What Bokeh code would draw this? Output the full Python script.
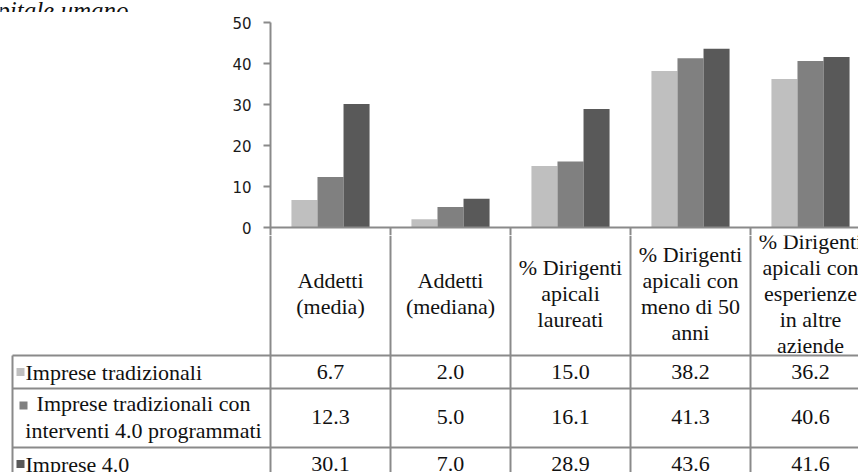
from bokeh.plotting import figure
from bokeh.layouts import column
from bokeh.models import Range1d, FixedTicker
from bokeh.core.properties import value
from bokeh.embed import file_html
from bokeh.resources import INLINE

# ---- data -------------------------------------------------------------
categories = [
    "Addetti\n(media)",
    "Addetti\n(mediana)",
    "% Dirigenti\napicali\nlaureati",
    "% Dirigenti\napicali con\nmeno di 50\nanni",
    "% Dirigenti\napicali con\nesperienze\nin altre\naziende",
]
series_names = [
    "Imprese tradizionali",
    "Imprese tradizionali con\ninterventi 4.0 programmati",
    "Imprese 4.0",
]
tradizionali = [6.7, 2.0, 15.0, 38.2, 36.2]
tradizionali_con_interventi = [12.3, 5.0, 16.1, 41.3, 40.6]
imprese_40 = [30.1, 7.0, 28.9, 43.6, 41.6]
y_ticks = [0, 10, 20, 30, 40, 50]
title_text = "Il capitale umano"

series_values = [tradizionali, tradizionali_con_interventi, imprese_40]
series_colors = ["#bfbfbf", "#808080", "#595959"]

# ---- layout geometry (pixels) -------------------------------------------
W, H = 858, 472
AXIS_PX = 270          # left edge of the first category column
CAT_PX = 120           # width of one category column
TITLE_H = 12           # strip holding the (partly cut) caption
CHART_BOTTOM = 235     # canvas y where the table strip starts
Y0_PX, Y50_PX = 227, 22
PX_PER_UNIT = (Y0_PX - Y50_PX) / 50.0
X_START = -AXIS_PX / CAT_PX
X_END = (W - AXIS_PX) / CAT_PX
LINE_COLOR = "#8a8a8a"
TEXT_COLOR = "#111111"
SERIF = "Liberation Serif"
TABLE_FONT_SIZE = "22px"


def px_to_x(px):
    return (px - AXIS_PX) / CAT_PX


def base_fig(**kw):
    f = figure(output_backend="svg", toolbar_location=None, frame_align=False, **kw)
    f.background_fill_color = "white"
    f.border_fill_color = "white"
    f.outline_line_color = None
    f.grid.visible = False
    return f


# ---- caption strip ------------------------------------------------------
cap = base_fig(width=W, height=TITLE_H,
               x_range=Range1d(X_START, X_END), y_range=Range1d(TITLE_H, 0),
               x_axis_location=None, y_axis_location=None, min_border=0)
cap.text(x=[px_to_x(128)], y=[9.5], text=[title_text],
         text_align="right", text_baseline="alphabetic",
         text_font=value(SERIF), text_font_style="italic", text_font_size="25px",
         text_color=TEXT_COLOR)

# ---- bar chart ----------------------------------------------------------
chart_h = CHART_BOTTOM - TITLE_H
y_start = -(CHART_BOTTOM - Y0_PX) / PX_PER_UNIT
p = base_fig(
    width=W, height=chart_h,
    x_range=Range1d(0, X_END), y_range=Range1d(y_start, 50),
    x_axis_location=None,
    min_border_left=AXIS_PX, min_border_right=0,
    min_border_top=Y50_PX - TITLE_H, min_border_bottom=0,
)

yaxis = p.yaxis[0]
yaxis.ticker = FixedTicker(ticks=y_ticks)
yaxis.bounds = (y_start, 50)
yaxis.axis_line_color = LINE_COLOR
yaxis.axis_line_width = 2
yaxis.major_tick_line_color = LINE_COLOR
yaxis.major_tick_line_width = 2
yaxis.major_tick_in = 0
yaxis.major_tick_out = 7
yaxis.minor_tick_line_color = None
yaxis.major_label_standoff = 12
yaxis.major_label_text_font = "DejaVu Sans"
yaxis.major_label_text_font_size = "15px"
yaxis.major_label_text_color = "#1a1a1a"

bar_w = 0.217
offsets = [-bar_w, 0.0, bar_w]
for vals, color, off in zip(series_values, series_colors, offsets):
    xs = [i + 0.5 + off for i in range(len(categories))]
    p.vbar(x=xs, top=vals, bottom=0, width=bar_w,
           fill_color=color, line_color=None)

# category axis line and the column separators reaching into the table
p.segment(x0=[0], y0=[0], x1=[X_END], y1=[0], line_color=LINE_COLOR, line_width=2)
bounds_x = list(range(1, len(categories)))
p.segment(x0=bounds_x, y0=[0] * len(bounds_x), x1=bounds_x, y1=[y_start] * len(bounds_x),
          line_color=LINE_COLOR, line_width=2)

# ---- data table ---------------------------------------------------------
t = base_fig(
    width=W, height=H - CHART_BOTTOM,
    x_range=Range1d(X_START, X_END), y_range=Range1d(H, CHART_BOTTOM),
    x_axis_location=None, y_axis_location=None, min_border=0,
)

HEADER_BOTTOM = 355
ROW_LINES = [355, 388, 447]
ROW_CENTERS = [371.5, 416.5, 463.5]
HEADER_CENTER = 293
LEGEND_LEFT = px_to_x(12)

col_x = list(range(len(categories) + 1))
t.segment(x0=col_x, y0=[CHART_BOTTOM] * len(col_x), x1=col_x, y1=[H] * len(col_x),
          line_color=LINE_COLOR, line_width=2)
t.segment(x0=[LEGEND_LEFT], y0=[HEADER_BOTTOM], x1=[LEGEND_LEFT], y1=[H],
          line_color=LINE_COLOR, line_width=2)
t.segment(x0=[LEGEND_LEFT] * len(ROW_LINES), y0=ROW_LINES,
          x1=[X_END] * len(ROW_LINES), y1=ROW_LINES,
          line_color=LINE_COLOR, line_width=2)

cx = [i + 0.5 for i in range(len(categories))]
t.text(x=cx, y=[HEADER_CENTER] * len(cx), text=categories,
       text_align="center", text_baseline="middle",
       text_font=value(SERIF), text_font_size=TABLE_FONT_SIZE, text_line_height=1.04,
       text_color=TEXT_COLOR)

for vals, yc in zip(series_values, ROW_CENTERS):
    t.text(x=cx, y=[yc] * len(cx), text=[f"{v:.1f}" for v in vals],
           text_align="center", text_baseline="middle",
           text_font=value(SERIF), text_font_size=TABLE_FONT_SIZE, text_color=TEXT_COLOR)

# legend column: colour keys and series names
t.scatter(x=[px_to_x(20), px_to_x(23), px_to_x(20)], y=[371.5, 405, 463.5],
          marker="square", size=8, fill_color=series_colors, line_color=None)
t.text(x=[px_to_x(25), px_to_x(25)], y=[ROW_CENTERS[0], ROW_CENTERS[2]],
       text=[series_names[0], series_names[2]],
       text_align="left", text_baseline="middle",
       text_font=value(SERIF), text_font_size=TABLE_FONT_SIZE, text_color=TEXT_COLOR)
t.text(x=[px_to_x(143)], y=[ROW_CENTERS[1]], text=[series_names[1]],
       text_align="center", text_baseline="middle",
       text_font=value(SERIF), text_font_size=TABLE_FONT_SIZE, text_line_height=1.08,
       text_color=TEXT_COLOR)

layout = column(cap, p, t, spacing=0)
open("out.html", "w").write(file_html(layout, INLINE))
